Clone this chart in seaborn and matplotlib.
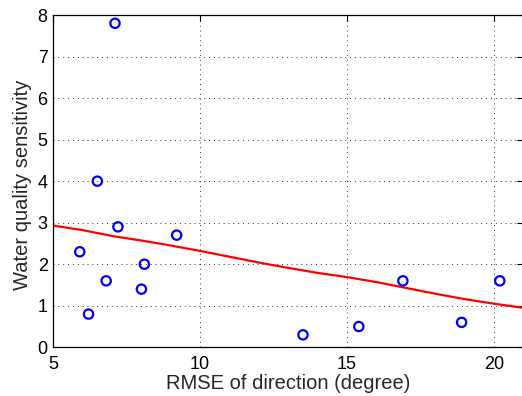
import matplotlib
matplotlib.use("Agg")
import matplotlib.pyplot as plt
import pandas as pd
import seaborn as sns

# scatter points
rmse = [7.1, 6.5, 5.9, 7.2, 6.2, 6.8, 8.1, 8.0, 9.2, 13.5, 15.4, 16.9, 18.9, 20.2]
sensitivity = [7.8, 4.0, 2.3, 2.9, 0.8, 1.6, 2.0, 1.4, 2.7, 0.3, 0.5, 1.6, 0.6, 1.6]

# fitted (red) curve
fit_x = [5, 6, 7, 8, 9, 10, 11, 12, 13, 14, 15, 16, 17, 18, 19, 20, 21]
fit_y = [2.93, 2.82, 2.68, 2.57, 2.45, 2.32, 2.18, 2.04, 1.91, 1.79,
         1.69, 1.57, 1.43, 1.29, 1.16, 1.05, 0.95]

x_ticks = [5, 10, 15, 20]
y_ticks = [0, 1, 2, 3, 4, 5, 6, 7, 8]

sns.set_style("white")
plt.rcParams["font.family"] = ["Liberation Sans", "DejaVu Sans"]

pts = pd.DataFrame({"rmse": rmse, "sens": sensitivity})
fit = pd.DataFrame({"x": fit_x, "y": fit_y})

fig = plt.figure(figsize=(5.22, 3.96), dpi=100)
ax = fig.add_axes([53.3 / 522, (396 - 347.3) / 396, 470 / 522, 332.3 / 396])

sns.scatterplot(data=pts, x="rmse", y="sens", ax=ax, marker="o", s=45,
                facecolor="none", edgecolor="#0000ff", linewidth=1.6, zorder=3)
sns.lineplot(data=fit, x="x", y="y", ax=ax, color="#ff0000", linewidth=1.6,
             zorder=2)

ax.set_xlim(5, 21)
ax.set_ylim(0, 8)
ax.set_xticks(x_ticks)
ax.set_yticks(y_ticks)
ax.grid(True, linestyle=(0, (1, 4)), color="#333333", linewidth=0.7)
ax.tick_params(direction="in", length=4, width=0.8, labelsize=13,
               top=True, right=True, colors="black")
ax.tick_params(axis="x", pad=6)
ax.tick_params(axis="y", pad=4)
for sp in ax.spines.values():
    sp.set_color("black")
    sp.set_linewidth(0.9)

ax.set_xlabel("RMSE of direction (degree)", fontsize=14.5, labelpad=1)
ax.set_ylabel("Water quality sensitivity", fontsize=14.5)
ax.yaxis.set_label_coords(-0.046, 0.488)

fig.savefig("out.png", dpi=100)
